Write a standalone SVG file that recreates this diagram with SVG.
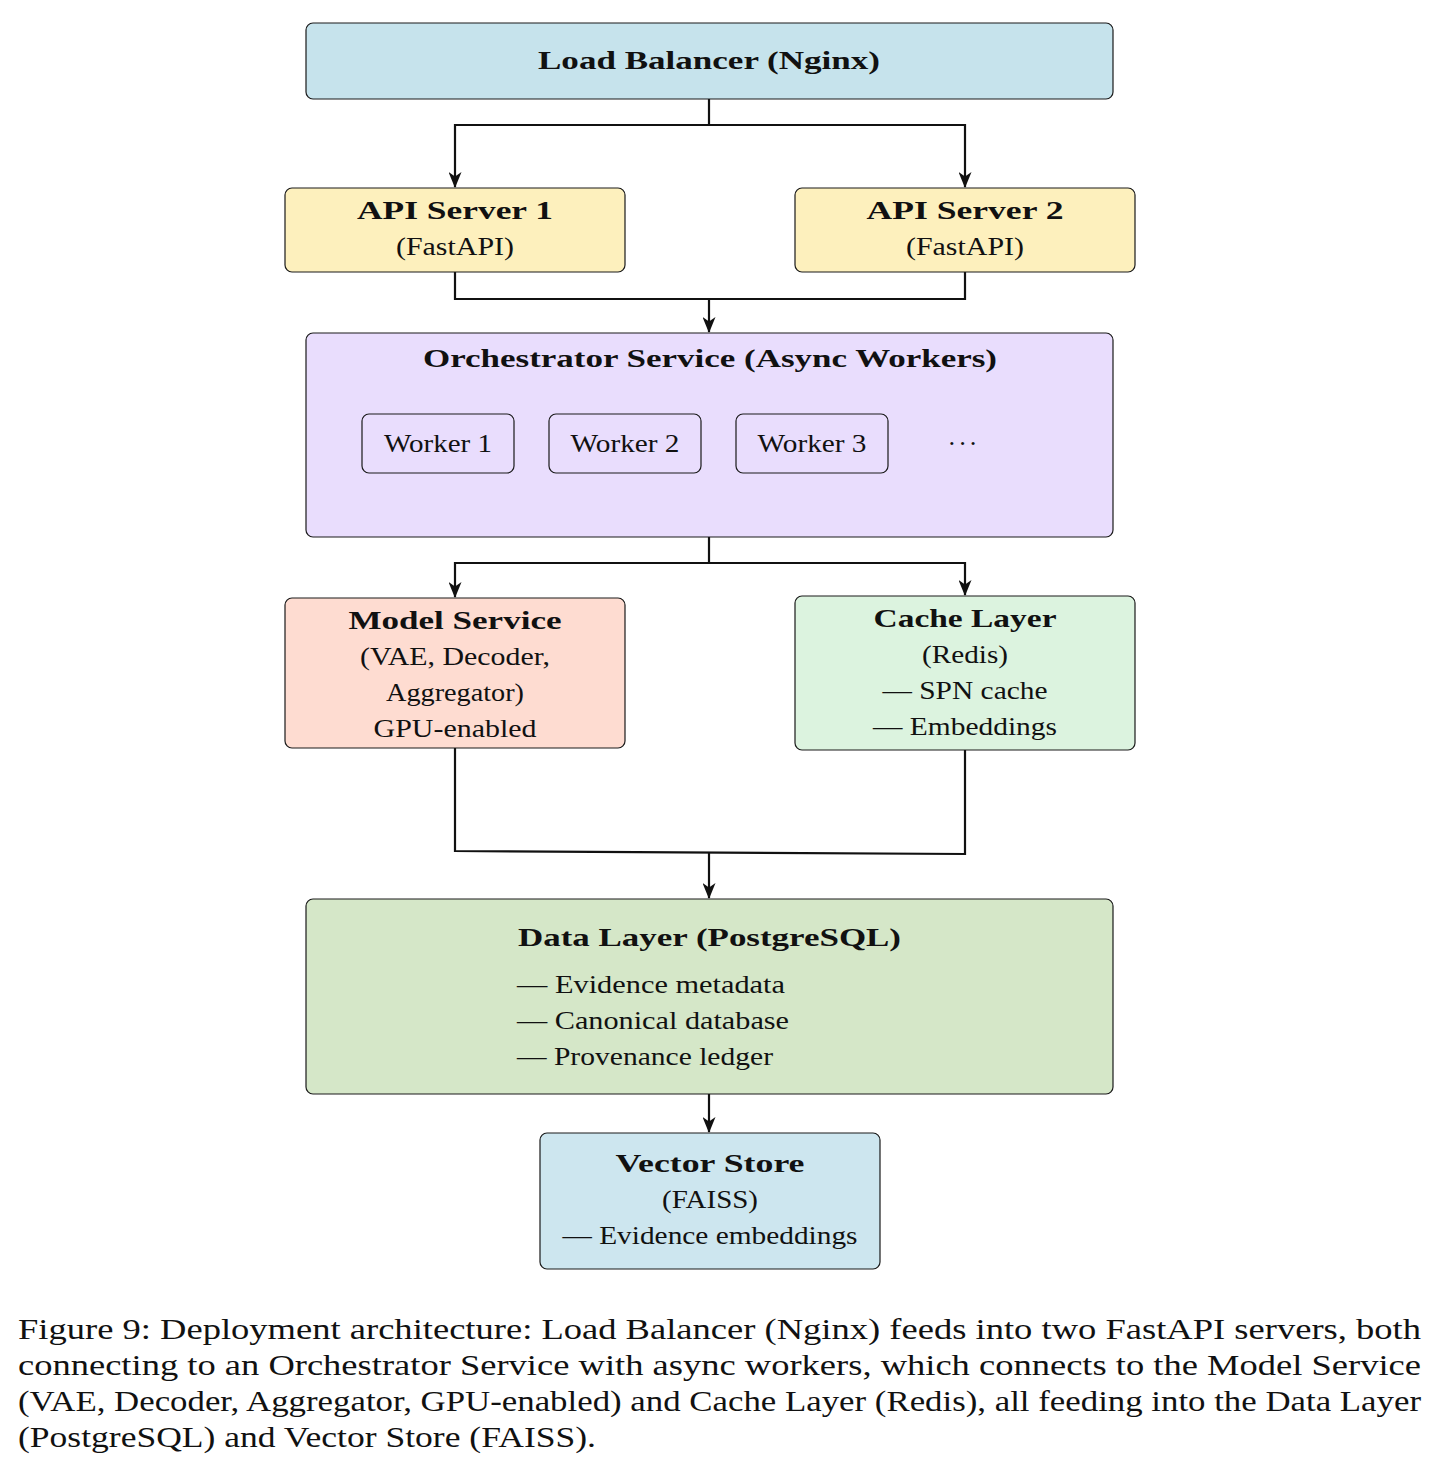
<svg xmlns="http://www.w3.org/2000/svg" width="1439" height="1484" viewBox="0 0 1439 1484">
<style>
text{font-family:"Liberation Serif","Times New Roman",serif;font-size:26px;fill:#111;}
.b{font-weight:bold;}
.c{text-anchor:middle;}
.box{stroke:#1a1a1a;stroke-width:1.2;}
.ln{fill:none;stroke:#111;stroke-width:2.2;}
.cap{font-size:29px;}
</style>
<defs>
<marker id="ah" viewBox="0 0 16 13" refX="15" refY="6.5" markerWidth="16" markerHeight="13" markerUnits="userSpaceOnUse" orient="auto">
<path d="M0,0 L16,6.5 L0,13 L4.5,6.5 z" fill="#111"/>
</marker>
</defs>
<rect width="1439" height="1484" fill="#fff"/>

<g id="connectors">
<path class="ln" d="M709,99 V125 H455 V187" marker-end="url(#ah)"/>
<path class="ln" d="M709,125 H965 V187" marker-end="url(#ah)"/>
<path class="ln" d="M455,272 V299 H965 V272"/>
<path class="ln" d="M709,299 V332" marker-end="url(#ah)"/>
<path class="ln" d="M709,537 V563 H455 V597" marker-end="url(#ah)"/>
<path class="ln" d="M709,563 H965 V595" marker-end="url(#ah)"/>
<path class="ln" d="M455,748 V851 L965,854 V750"/>
<path class="ln" d="M709,852 V898" marker-end="url(#ah)"/>
<path class="ln" d="M709,1094 V1132" marker-end="url(#ah)"/>
</g>

<g id="load-balancer">
<rect class="box" x="306" y="23" width="807" height="76" rx="7" fill="#c6e3ec"/>
<text class="b c" x="709" y="69" textLength="342" lengthAdjust="spacingAndGlyphs">Load Balancer (Nginx)</text>
</g>

<g id="api-server-1">
<rect class="box" x="285" y="188" width="340" height="84" rx="7" fill="#fdf0bd"/>
<text class="b c" x="455" y="219" textLength="196" lengthAdjust="spacingAndGlyphs">API Server 1</text>
<text class="c" x="455" y="255" textLength="118" lengthAdjust="spacingAndGlyphs">(FastAPI)</text>
</g>

<g id="api-server-2">
<rect class="box" x="795" y="188" width="340" height="84" rx="7" fill="#fdf0bd"/>
<text class="b c" x="965" y="219" textLength="197" lengthAdjust="spacingAndGlyphs">API Server 2</text>
<text class="c" x="965" y="255" textLength="118" lengthAdjust="spacingAndGlyphs">(FastAPI)</text>
</g>

<g id="orchestrator">
<rect class="box" x="306" y="333" width="807" height="204" rx="7" fill="#e9ddfd"/>
<text class="b c" x="710" y="367" textLength="574" lengthAdjust="spacingAndGlyphs">Orchestrator Service (Async Workers)</text>
<g id="worker-1">
<rect class="box" x="362" y="414" width="152" height="59" rx="7" fill="#e9ddfd"/>
<text class="c" x="438" y="452" textLength="108" lengthAdjust="spacingAndGlyphs">Worker 1</text>
</g>
<g id="worker-2">
<rect class="box" x="549" y="414" width="152" height="59" rx="7" fill="#e9ddfd"/>
<text class="c" x="625" y="452" textLength="109" lengthAdjust="spacingAndGlyphs">Worker 2</text>
</g>
<g id="worker-3">
<rect class="box" x="736" y="414" width="152" height="59" rx="7" fill="#e9ddfd"/>
<text class="c" x="812" y="452" textLength="109" lengthAdjust="spacingAndGlyphs">Worker 3</text>
</g>
<text class="c" x="962.5" y="452" textLength="30" lengthAdjust="spacing">· · ·</text>
</g>

<g id="model-service">
<rect class="box" x="285" y="598" width="340" height="150" rx="7" fill="#fedcd1"/>
<text class="b c" x="455" y="629" textLength="213" lengthAdjust="spacingAndGlyphs">Model Service</text>
<text class="c" x="455" y="665" textLength="190" lengthAdjust="spacingAndGlyphs">(VAE, Decoder,</text>
<text class="c" x="455" y="701" textLength="138" lengthAdjust="spacingAndGlyphs">Aggregator)</text>
<text class="c" x="455" y="737" textLength="163" lengthAdjust="spacingAndGlyphs">GPU-enabled</text>
</g>

<g id="cache-layer">
<rect class="box" x="795" y="596" width="340" height="154" rx="7" fill="#dcf3df"/>
<text class="b c" x="965" y="627" textLength="183" lengthAdjust="spacingAndGlyphs">Cache Layer</text>
<text class="c" x="965" y="663" textLength="86" lengthAdjust="spacingAndGlyphs">(Redis)</text>
<text class="c" x="965" y="699" textLength="165" lengthAdjust="spacingAndGlyphs">— SPN cache</text>
<text class="c" x="965" y="735" textLength="184" lengthAdjust="spacingAndGlyphs">— Embeddings</text>
</g>

<g id="data-layer">
<rect class="box" x="306" y="899" width="807" height="195" rx="7" fill="#d5e7c8"/>
<text class="b" x="518" y="946" textLength="383" lengthAdjust="spacingAndGlyphs">Data Layer (PostgreSQL)</text>
<text x="517" y="993" textLength="268" lengthAdjust="spacingAndGlyphs">— Evidence metadata</text>
<text x="517" y="1029" textLength="272" lengthAdjust="spacingAndGlyphs">— Canonical database</text>
<text x="517" y="1065" textLength="256" lengthAdjust="spacingAndGlyphs">— Provenance ledger</text>
</g>

<g id="vector-store">
<rect class="box" x="540" y="1133" width="340" height="136" rx="7" fill="#cde6ef"/>
<text class="b c" x="710" y="1172" textLength="189" lengthAdjust="spacingAndGlyphs">Vector Store</text>
<text class="c" x="710" y="1208" textLength="96" lengthAdjust="spacingAndGlyphs">(FAISS)</text>
<text class="c" x="710" y="1244" textLength="295" lengthAdjust="spacingAndGlyphs">— Evidence embeddings</text>
</g>

<g id="caption">
<text class="cap" x="18" y="1339" textLength="1403" lengthAdjust="spacingAndGlyphs">Figure 9: Deployment architecture: Load Balancer (Nginx) feeds into two FastAPI servers, both</text>
<text class="cap" x="18" y="1375" textLength="1403" lengthAdjust="spacingAndGlyphs">connecting to an Orchestrator Service with async workers, which connects to the Model Service</text>
<text class="cap" x="18" y="1411" textLength="1403" lengthAdjust="spacingAndGlyphs">(VAE, Decoder, Aggregator, GPU-enabled) and Cache Layer (Redis), all feeding into the Data Layer</text>
<text class="cap" x="18" y="1447" textLength="578" lengthAdjust="spacingAndGlyphs">(PostgreSQL) and Vector Store (FAISS).</text>
</g>
</svg>
